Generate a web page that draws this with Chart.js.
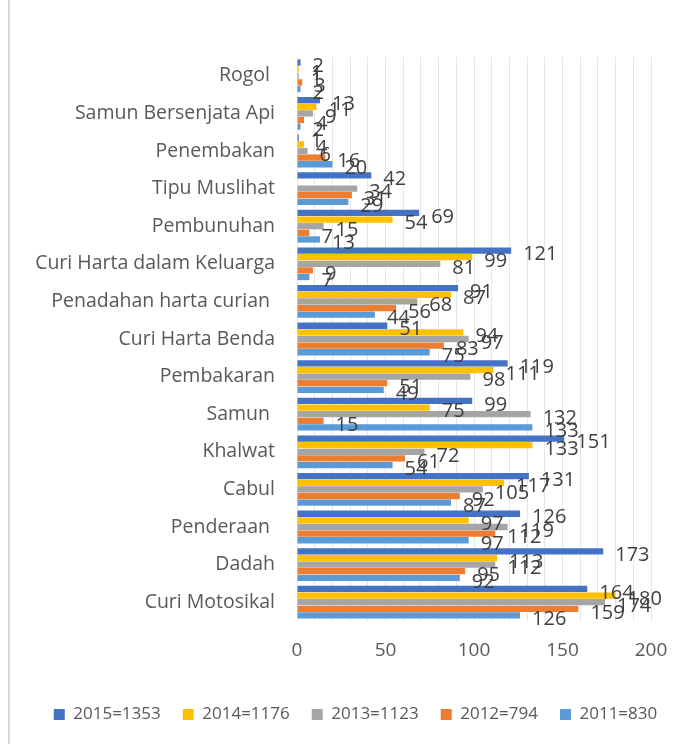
<!DOCTYPE html>
<html>
<head>
<meta charset="utf-8">
<script src="https://cdn.jsdelivr.net/npm/chart.js@4.4.1/dist/chart.umd.min.js"></script>
<style>
  html, body { margin: 0; padding: 0; background: #fff; }
  #wrap { width: 697px; height: 744px; position: relative; }
</style>
</head>
<body>
<div id="wrap"><canvas id="grafico" width="697" height="744"></canvas></div>
<script>
const kategori = ['Rogol ', 'Samun Bersenjata Api', 'Penembakan', 'Tipu Muslihat', 'Pembunuhan',
  'Curi Harta dalam Keluarga', 'Penadahan harta curian ', 'Curi Harta Benda', 'Pembakaran',
  'Samun ', 'Khalwat', 'Cabul', 'Penderaan ', 'Dadah', 'Curi Motosikal']

const data2015 = [2, 13, 1, 42, 69, 121, 91, 51, 119, 99, 151, 131, 126, 173, 164]
const data2014 = [1, 11, 4, 0, 54, 99, 87, 94, 111, 75, 133, 117, 97, 113, 180]
const data2013 = [1, 9, 6, 34, 15, 81, 68, 97, 98, 132, 72, 105, 119, 112, 174]
const data2012 = [3, 4, 16, 31, 7, 9, 56, 83, 51, 15, 61, 92, 112, 95, 159]
const data2011 = [2, 2, 20, 29, 13, 7, 44, 75, 49, 133, 54, 87, 97, 92, 126]

const legenda = ['2015=1353', '2014=1176', '2013=1123', '2012=794', '2011=830']
const warna = ['#4472C4', '#FFC000', '#A5A5A5', '#ED7D31', '#5B9BD5']
const tickLabels = [0, 50, 100, 150, 200]

const fonte = '"Open Sans", "Noto Sans", sans-serif'

// label nilai di hujung setiap bar
const labelNilai = {
  id: 'labelNilai',
  afterDatasetsDraw(chart) {
    const ctx = chart.ctx
    ctx.save()
    ctx.font = '20px ' + fonte
    ctx.fillStyle = '#404040'
    ctx.textAlign = 'left'
    ctx.textBaseline = 'middle'
    chart.data.datasets.forEach((ds, i) => {
      const meta = chart.getDatasetMeta(i)
      meta.data.forEach((bar, j) => {
        const v = ds.data[j]
        if (!v) return
        ctx.fillText(String(v), bar.x + 12, bar.y + 4)
      })
    })
    ctx.restore()
  }
}

const bingkai = {
  id: 'bingkai',
  afterLayout(chart) {
    // geser legenda sedikit ke kanan
    if (chart.legend) {
      chart.legend.left += 30
      chart.legend.right += 30
    }
  },
  beforeDraw(chart) {
    const ctx = chart.ctx
    ctx.save()
    ctx.fillStyle = '#fff'
    ctx.fillRect(0, 0, chart.width, chart.height)
    ctx.strokeStyle = '#d9d9d9'
    ctx.lineWidth = 2
    ctx.beginPath()
    ctx.moveTo(9, 0)
    ctx.lineTo(9, chart.height)
    ctx.stroke()
    ctx.restore()
  }
}

const grafico = document.getElementById('grafico').getContext('2d')

const meuGrafico = new Chart(grafico, {
  type: 'bar',
  data: {
    labels: kategori,
    datasets: [data2015, data2014, data2013, data2012, data2011].map((d, i) => ({
      label: legenda[i],
      data: d,
      backgroundColor: warna[i],
      borderWidth: 0,
      categoryPercentage: 0.88,
      barPercentage: 0.95
    }))
  },
  options: {
    indexAxis: 'y',
    responsive: false,
    animation: false,
    devicePixelRatio: 1,
    layout: { padding: { top: 57, right: 46, bottom: 11, left: 0 } },
    scales: {
      x: {
        min: 0,
        max: 200,
        ticks: {
          stepSize: 10,
          autoSkip: false,
          maxRotation: 0,
          padding: 18,
          color: '#595959',
          font: { size: 19, family: fonte },
          callback: v => tickLabels.includes(v) ? v : ''
        },
        grid: { color: '#e6e6e6', drawTicks: false },
        border: { display: false },
        afterFit: s => { s.height = 63 }
      },
      y: {
        ticks: {
          padding: 22,
          color: '#595959',
          font: { size: 19.5, family: fonte }
        },
        grid: { display: false, drawTicks: false },
        border: { display: false },
        afterFit: s => { s.width = 297 }
      }
    },
    plugins: {
      legend: {
        position: 'bottom',
        labels: {
          boxWidth: 11,
          boxHeight: 11,
          padding: 22,
          color: '#595959',
          font: { size: 17, family: fonte }
        }
      },
      tooltip: { enabled: false }
    }
  },
  plugins: [bingkai, labelNilai]
})
</script>
</body>
</html>
